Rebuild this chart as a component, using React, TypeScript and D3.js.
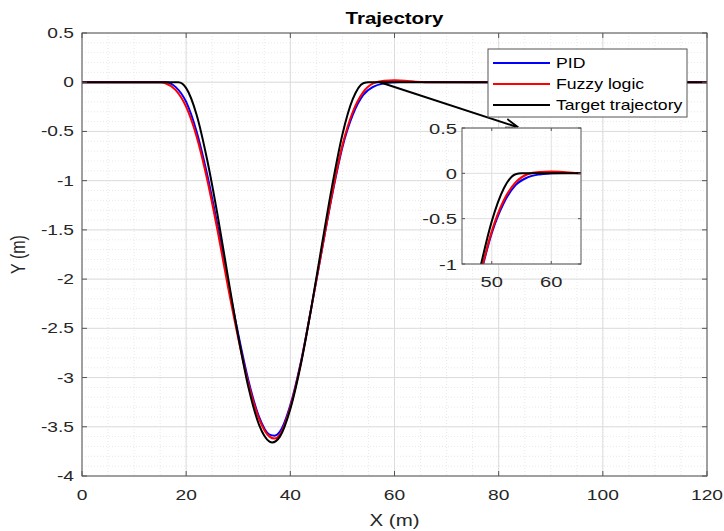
import React from "react";
import * as d3 from "d3";

const targetX = [0, 10, 18.5, 20, 22, 24, 26, 28, 30, 32, 34, 36, 36.5, 38, 40, 42, 44, 46, 48, 50, 52, 54, 55, 70, 120];
const targetY = [0, 0, 0, -0.06, -0.33, -0.78, -1.34, -1.97, -2.58, -3.11, -3.48, -3.65, -3.66, -3.6, -3.32, -2.87, -2.3, -1.67, -1.06, -0.53, -0.17, -0.01, 0, 0, 0];

const fuzzyX = [0, 10, 15, 16, 18, 20, 22, 24, 26, 28, 30, 32, 34, 36, 37, 38, 40, 42, 44, 46, 48, 50, 52, 54, 56, 58, 60, 62, 64, 66, 80, 120];
const fuzzyY = [0, 0, 0, -0.01, -0.08, -0.25, -0.55, -0.98, -1.5, -2.07, -2.6, -3.07, -3.42, -3.6, -3.62, -3.58, -3.3, -2.86, -2.3, -1.72, -1.14, -0.64, -0.3, -0.1, -0.01, 0.015, 0.02, 0.015, 0.005, 0, 0, 0];

const pidX = [0, 10, 16, 18, 20, 22, 24, 26, 28, 30, 32, 34, 36, 37, 38, 40, 42, 44, 46, 48, 50, 52, 54, 56, 58, 60, 62, 64, 80, 120];
const pidY = [0, 0, 0, -0.05, -0.2, -0.5, -0.93, -1.45, -2.02, -2.56, -3.04, -3.4, -3.58, -3.59, -3.55, -3.28, -2.85, -2.3, -1.72, -1.15, -0.66, -0.33, -0.13, -0.045, -0.012, 0, 0.005, 0.003, 0, 0];

const seriesNames = ["PID", "Fuzzy logic", "Target trajectory"];
const seriesColors = ["#0000ff", "#ff0000", "#000000"];

const xTicks = [0, 20, 40, 60, 80, 100, 120];
const yTicks = [0.5, 0, -0.5, -1, -1.5, -2, -2.5, -3, -3.5, -4];
const insetXTicks = [50, 60];
const insetYTicks = [0.5, 0, -0.5, -1];

const W = 724, H = 531;
const M = { left: 82, right: 707, top: 33, bottom: 476 };
const INSET = { left: 462, right: 581, top: 128, bottom: 264 };
const FONT = "'Liberation Sans', Arial, Helvetica, sans-serif";
const TXT = "#262626";
const SX = 1.28;

function zip(xs: number[], ys: number[]): [number, number][] {
  return xs.map((x, i) => [x, ys[i]]);
}

function SText(props: { x: number; y: number; anchor?: string; size: number; weight?: string; fill?: string; children: React.ReactNode; sx?: number }) {
  const s = props.sx ?? SX;
  return (
    <text
      transform={`translate(${props.x},${props.y}) scale(${s},1)`}
      textAnchor={props.anchor || "start"}
      fontSize={props.size}
      fontWeight={props.weight || "normal"}
      fill={props.fill || TXT}
    >
      {props.children}
    </text>
  );
}

export default function App() {
  const x = d3.scaleLinear().domain([0, 120]).range([M.left, M.right]);
  const y = d3.scaleLinear().domain([-4, 0.5]).range([M.bottom, M.top]);
  const ix = d3.scaleLinear().domain([45, 65]).range([INSET.left, INSET.right]);
  const iy = d3.scaleLinear().domain([-1, 0.5]).range([INSET.bottom, INSET.top]);

  const series = [zip(pidX, pidY), zip(fuzzyX, fuzzyY), zip(targetX, targetY)];

  const line = d3.line<[number, number]>().x(d => x(d[0])).y(d => y(d[1])).curve(d3.curveMonotoneX);
  const iline = d3.line<[number, number]>().x(d => ix(d[0])).y(d => iy(d[1])).curve(d3.curveMonotoneX);

  const minorX = d3.range(0, 120.01, 5);
  const minorY = d3.range(-4, 0.501, 0.1);
  const insetMinorX = d3.range(45, 65.01, 2);
  const insetMinorY = d3.range(-1, 0.501, 0.1);

  const arrowStart: [number, number] = [x(57.2), y(0)];
  const arrowEnd: [number, number] = [517, 127];

  return (
    <svg width={W} height={H} style={{ position: "absolute", left: 0, top: 0, background: "#fff" }} fontFamily={FONT}>
      <defs>
        <clipPath id="mainClip">
          <rect x={M.left} y={M.top} width={M.right - M.left} height={M.bottom - M.top} />
        </clipPath>
        <clipPath id="insetClip">
          <rect x={INSET.left} y={INSET.top} width={INSET.right - INSET.left} height={INSET.bottom - INSET.top} />
        </clipPath>
        <marker id="arrowHead" viewBox="0 0 10 10" refX="9" refY="5" markerWidth="13" markerHeight="13" orient="auto" markerUnits="userSpaceOnUse">
          <path d="M0,1.5 L10,5 L0,8.5" fill="none" stroke="#000" strokeWidth={1.4} />
        </marker>
      </defs>
      <rect x={0} y={0} width={W} height={H} fill="#fff" />
      {/* minor grid */}
      <g stroke="#e3e3e3" strokeWidth={0.8} strokeDasharray="1,2">
        {minorX.map((v, i) => <line key={"mx" + i} x1={x(v)} x2={x(v)} y1={M.top} y2={M.bottom} />)}
        {minorY.map((v, i) => <line key={"my" + i} x1={M.left} x2={M.right} y1={y(v)} y2={y(v)} />)}
      </g>
      {/* major grid */}
      <g stroke="#dcdcdc" strokeWidth={1}>
        {xTicks.map(v => <line key={"gx" + v} x1={x(v)} x2={x(v)} y1={M.top} y2={M.bottom} />)}
        {yTicks.map(v => <line key={"gy" + v} x1={M.left} x2={M.right} y1={y(v)} y2={y(v)} />)}
      </g>
      {/* series */}
      <g clipPath="url(#mainClip)" fill="none">
        {series.map((s, i) => (
          <path key={"s" + i} d={line(s) || ""} stroke={seriesColors[i]} strokeWidth={2} />
        ))}
      </g>
      {/* axes box */}
      <rect x={M.left} y={M.top} width={M.right - M.left} height={M.bottom - M.top} fill="none" stroke="#555" strokeWidth={1} />
      <g stroke="#555" strokeWidth={1}>
        {xTicks.map(v => (
          <g key={"tx" + v}>
            <line x1={x(v)} x2={x(v)} y1={M.bottom} y2={M.bottom - 5} />
            <line x1={x(v)} x2={x(v)} y1={M.top} y2={M.top + 5} />
          </g>
        ))}
        {yTicks.map(v => (
          <g key={"ty" + v}>
            <line x1={M.left} x2={M.left + 5} y1={y(v)} y2={y(v)} />
            <line x1={M.right} x2={M.right - 5} y1={y(v)} y2={y(v)} />
          </g>
        ))}
      </g>
      {xTicks.map(v => (
        <SText key={"lx" + v} x={x(v)} y={M.bottom + 24} anchor="middle" size={15}>{v}</SText>
      ))}
      {yTicks.map(v => (
        <SText key={"ly" + v} x={M.left - 8} y={y(v) + 5} anchor="end" size={15}>{v}</SText>
      ))}
      <SText x={(M.left + M.right) / 2} y={526} anchor="middle" size={16}>X (m)</SText>
      <text transform={`translate(25,${(M.top + M.bottom) / 2}) rotate(-90) scale(1,${SX})`} textAnchor="middle" fontSize={16} fill={TXT}>Y (m)</text>
      <SText x={(M.left + M.right) / 2} y={24} anchor="middle" size={16} weight="bold" fill="#000">Trajectory</SText>

      {/* arrow */}
      <line x1={arrowStart[0]} y1={arrowStart[1]} x2={arrowEnd[0]} y2={arrowEnd[1]} stroke="#000" strokeWidth={2} markerEnd="url(#arrowHead)" />

      {/* inset */}
      <rect x={INSET.left} y={INSET.top} width={INSET.right - INSET.left} height={INSET.bottom - INSET.top} fill="#fff" />
      <g stroke="#ececec" strokeWidth={0.8} strokeDasharray="1,2">
        {insetMinorX.map((v, i) => <line key={"imx" + i} x1={ix(v)} x2={ix(v)} y1={INSET.top} y2={INSET.bottom} />)}
        {insetMinorY.map((v, i) => <line key={"imy" + i} x1={INSET.left} x2={INSET.right} y1={iy(v)} y2={iy(v)} />)}
      </g>
      <g stroke="#e0e0e0" strokeWidth={1}>
        {insetXTicks.map(v => <line key={"igx" + v} x1={ix(v)} x2={ix(v)} y1={INSET.top} y2={INSET.bottom} />)}
        {insetYTicks.map(v => <line key={"igy" + v} x1={INSET.left} x2={INSET.right} y1={iy(v)} y2={iy(v)} />)}
      </g>
      <g clipPath="url(#insetClip)" fill="none">
        {series.map((s, i) => (
          <path key={"is" + i} d={iline(s) || ""} stroke={seriesColors[i]} strokeWidth={2} />
        ))}
      </g>
      <rect x={INSET.left} y={INSET.top} width={INSET.right - INSET.left} height={INSET.bottom - INSET.top} fill="none" stroke="#555" strokeWidth={1} />
      <g stroke="#555" strokeWidth={1}>
        {insetXTicks.map(v => (
          <g key={"itx" + v}>
            <line x1={ix(v)} x2={ix(v)} y1={INSET.bottom} y2={INSET.bottom - 3} />
            <line x1={ix(v)} x2={ix(v)} y1={INSET.top} y2={INSET.top + 3} />
          </g>
        ))}
        {insetYTicks.map(v => (
          <g key={"ity" + v}>
            <line x1={INSET.left} x2={INSET.left + 3} y1={iy(v)} y2={iy(v)} />
            <line x1={INSET.right} x2={INSET.right - 3} y1={iy(v)} y2={iy(v)} />
          </g>
        ))}
      </g>
      {insetXTicks.map(v => (
        <SText key={"ilx" + v} x={ix(v)} y={INSET.bottom + 23} anchor="middle" size={15.5} sx={1.3}>{v}</SText>
      ))}
      {insetYTicks.map(v => (
        <SText key={"ily" + v} x={INSET.left - 5} y={iy(v) + 5.5} anchor="end" size={15.5} sx={1.3}>{v}</SText>
      ))}

      {/* legend */}
      <rect x={488} y={49} width={199} height={68} fill="#fff" stroke="#555" strokeWidth={1} />
      {seriesNames.map((name, i) => (
        <g key={"lg" + i}>
          <line x1={493} x2={550} y1={63 + i * 21} y2={63 + i * 21} stroke={seriesColors[i]} strokeWidth={2} />
          <SText x={556} y={63 + i * 21 + 5} size={14} fill="#000" sx={1.26}>{name}</SText>
        </g>
      ))}
    </svg>
  );
}
